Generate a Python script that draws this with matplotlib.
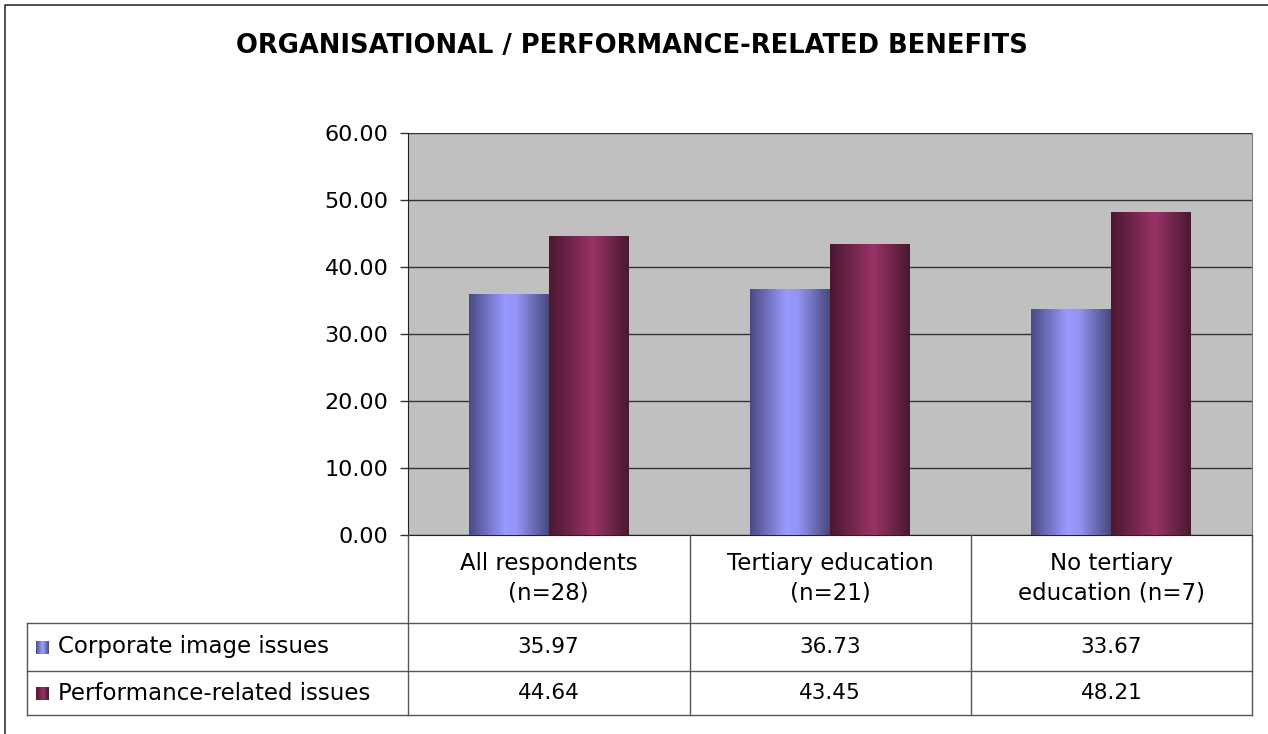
import numpy as np
import matplotlib
matplotlib.use("Agg")
import matplotlib.pyplot as plt
from matplotlib.colors import LinearSegmentedColormap
from matplotlib import transforms

categories = ["All respondents\n(n=28)", "Tertiary education\n(n=21)", "No tertiary\neducation (n=7)"]
series_names = ["Corporate image issues", "Performance-related issues"]
corporate = [35.97, 36.73, 33.67]
performance = [44.64, 43.45, 48.21]
yticks = [0, 10, 20, 30, 40, 50, 60]

W, H = 1268, 734
fig = plt.figure(figsize=(W / 100, H / 100), dpi=100)
fig.patch.set_facecolor("white")

# overlay in pixel coordinates for the frame and the data table
pix = fig.add_axes([0, 0, 1, 1], zorder=3)
pix.set_xlim(0, W)
pix.set_ylim(H, 0)
pix.axis("off")

ax = fig.add_axes([408 / W, 1 - 535 / H, 844 / W, 402 / H], zorder=2)
ax.set_facecolor("#C0C0C0")

cmaps = [
    LinearSegmentedColormap.from_list("blu", [(0, "#4A4A82"), (0.45, "#9999FF"), (0.6, "#9494F5"), (1, "#48487E")]),
    LinearSegmentedColormap.from_list("red", [(0, "#4A1830"), (0.55, "#993366"), (1, "#4A1830")]),
]
grad = np.linspace(0, 1, 256).reshape(1, -1)

x = np.arange(len(categories))
bw = 0.284
for i, vals in enumerate([corporate, performance]):
    bars = ax.bar(x + (i - 0.5) * bw, vals, bw, color="none", linewidth=0, zorder=3)
    for b in bars:
        x0, y0, w, h = b.get_x(), b.get_y(), b.get_width(), b.get_height()
        im = ax.imshow(grad, cmap=cmaps[i], extent=(x0, x0 + w, y0, y0 + h),
                       aspect="auto", interpolation="bilinear", zorder=3)
        im.set_clip_path(b)

ax.set_xlim(-0.5, 2.5)
ax.set_ylim(0, 60)
ax.set_yticks(yticks)
ax.set_yticklabels([f"{v:.2f}" for v in yticks], fontsize=16, fontfamily="DejaVu Sans")
ax.tick_params(axis="y", direction="out", length=6, width=1, color="#333333", pad=8)
ax.set_xticks([])
ax.grid(axis="y", color="#333333", linewidth=1, zorder=1)
ax.set_axisbelow(True)
ax.spines["top"].set_visible(False)
ax.spines["left"].set_color("#222222")
ax.spines["bottom"].set_color("#222222")
ax.spines["right"].set_color("#808080")

# title
fig.text(632 / W, 1 - 46 / H, "ORGANISATIONAL / PERFORMANCE-RELATED BENEFITS",
         ha="center", va="center", fontsize=18.5, fontweight="bold", fontfamily="DejaVu Sans")

# outer frame (right and bottom edges fall outside the picture)
pix.plot([5, 5, W], [H, 5, 5], color="#333333", lw=1.2)

# data table
lc = "#555555"
col_lines = [408, 690, 971, 1252]
pix.plot([27, 1252], [623, 623], color=lc, lw=1)
pix.plot([27, 1252], [671, 671], color=lc, lw=1)
pix.plot([27, 1252], [715, 715], color=lc, lw=1)
pix.plot([27, 27], [623, 715], color=lc, lw=1)
for cx in col_lines:
    pix.plot([cx, cx], [535, 715], color=lc, lw=1)

mix = transforms.blended_transform_factory(ax.transData, pix.transData)
for i, c in enumerate(categories):
    ax.text(x[i], 578, c, transform=mix, ha="center", va="center", fontsize=16.5,
            fontfamily="DejaVu Sans", linespacing=1.35, clip_on=False)
row_y = [647, 693]
for r, vals in enumerate([corporate, performance]):
    for i, v in enumerate(vals):
        ax.text(x[i], row_y[r], f"{v:.2f}", transform=mix, ha="center", va="center",
                fontsize=15.5, fontfamily="DejaVu Sans", clip_on=False)
    # legend key with gradient
    pix.imshow(grad, cmap=cmaps[r], extent=(36, 49, row_y[r] + 7, row_y[r] - 6),
               aspect="auto", interpolation="bilinear")
    pix.text(58, row_y[r], series_names[r], ha="left", va="center", fontsize=16.5,
             fontfamily="DejaVu Sans")
pix.set_xlim(0, W)
pix.set_ylim(H, 0)

fig.savefig("out.png", dpi=100)
